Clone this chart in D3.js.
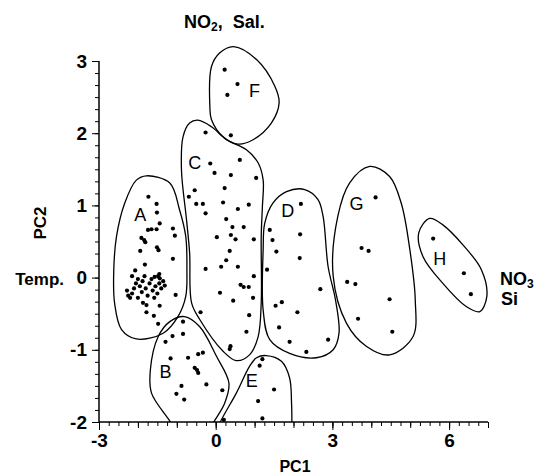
<!DOCTYPE html>
<html>
<head>
<meta charset="utf-8">
<script src="https://cdn.jsdelivr.net/npm/d3@7"></script>
<style>
  body { margin: 0; background: #fff; }
  svg { display: block; }
  text { font-family: "Liberation Sans", Arial, sans-serif; fill: #000; }
</style>
</head>
<body>
<svg id="chart" width="545" height="474"></svg>
<script>
// PCA scores (PC1, PC2)
var groupA = [[-1.73,1.12],[-1.52,1.02],[-1.51,0.90],[-1.44,0.75],[-1.74,0.66],[-1.65,0.67],[-1.52,0.67],
  [-1.10,0.68],[-1.05,0.58],[-1.91,0.55],[-1.84,0.52],[-1.81,0.49],[-1.51,0.42],[-1.47,0.38],[-1.94,0.37],
  [-1.10,0.26],[-1.82,0.18],[-2.07,0.10],[-1.48,0.02],[-1.57,0.01],[-1.44,-0.01],[-1.83,0.02],[-1.31,-0.11],
  [-1.03,-0.24],[-1.87,-0.35],[-1.78,-0.38],[-1.44,-0.39],[-1.78,-0.48],[-1.59,-0.53],[-1.48,-0.64],
  [-2.25,-0.25],[-2.20,-0.28],[-2.15,-0.22],[-2.10,-0.15],[-2.05,-0.08],[-2.00,-0.02],[-1.95,-0.12],
  [-1.90,-0.20],[-1.88,-0.05],[-1.80,-0.15],[-1.75,-0.25],[-1.70,-0.08],[-1.65,-0.02],[-1.62,-0.18],
  [-1.55,-0.12],[-1.50,-0.22],[-1.45,-0.08],[-1.40,-0.15],[-1.35,-0.05],[-2.28,-0.18],[-2.00,-0.28],
  [-1.58,-0.28],[-1.45,0.05],[-2.15,0.02]];
var groupB = [[-0.84,-0.61],[-1.29,-0.89],[-1.11,-0.81],[-0.84,-0.78],[-1.16,-1.12],[-0.71,-1.11],
  [-0.45,-1.06],[-0.33,-1.04],[-0.54,-1.25],[-0.48,-1.28],[-0.45,-1.32],[-0.88,-1.50],[-0.24,-1.48],
  [-1.01,-1.61],[-0.81,-1.69],[0.17,-1.56]];
var groupC = [[-0.26,2.01],[-0.14,1.58],[-0.03,1.45],[0.39,1.42],[0.62,1.63],[1.04,1.38],[0.23,1.24],
  [-0.54,1.21],[-0.69,1.12],[-0.50,1.02],[-0.33,1.02],[0.19,1.04],[0.57,0.95],[0.85,1.01],[-0.26,0.89],
  [0.27,0.81],[0.43,0.70],[0.72,0.70],[0.03,0.56],[0.39,0.59],[0.51,0.53],[0.98,0.53],[0.36,0.37],
  [0.27,0.24],[0.14,0.15],[-0.26,0.12],[0.57,0.15],[0.98,0.02],[0.64,-0.10],[0.72,-0.13],[0.85,-0.13],
  [0.11,-0.21],[0.45,-0.32],[0.96,-0.28],[-0.39,-0.48],[0.86,-0.52],[0.79,-0.75],[0.38,-0.95],[0.36,-0.99]];
var groupD = [[2.19,1.02],[1.39,0.66],[1.46,0.52],[1.56,0.36],[2.17,0.60],[2.16,0.27],[1.32,0.11],
  [2.69,-0.16],[1.54,-0.39],[1.70,-0.34],[2.10,-0.48],[1.63,-0.69],[1.90,-0.89],[2.89,-0.86],[2.33,-1.03]];
var groupE = [[1.20,-1.13],[1.13,-1.22],[1.50,-1.55],[1.09,-1.71],[1.20,-1.95],[0.21,-1.97]];
var groupF = [[0.23,2.88],[0.56,2.68],[0.30,2.53],[0.39,1.97]];
var groupG = [[4.11,1.11],[3.75,0.41],[3.93,0.37],[3.38,-0.06],[3.59,-0.09],[4.47,-0.30],[3.66,-0.57],[4.54,-0.75]];
var groupH = [[5.59,0.54],[6.38,0.06],[6.56,-0.23]];

// hand-drawn envelopes round each group (PC1, PC2)
var hullA = [[-1.78,1.41],[-1.18,1.31],[-0.93,0.94],[-0.77,0.57],[-0.74,0.11],[-0.77,-0.26],[-0.97,-0.54],
  [-1.35,-0.77],[-2.04,-0.85],[-2.42,-0.72],[-2.60,-0.35],[-2.62,0.11],[-2.55,0.57],[-2.34,1.03],[-2.04,1.35]];
var hullB = [[-0.80,-0.54],[-0.41,-0.68],[0.02,-1.09],[0.34,-1.46],[0.23,-1.74],[-0.07,-2.02],[-0.28,-2.25],
  [-0.93,-2.25],[-1.14,-2.02],[-1.65,-1.60],[-1.68,-1.28],[-1.48,-0.82],[-1.18,-0.61]];
var hullC = [[-0.46,2.18],[-0.11,2.09],[0.28,1.91],[0.79,1.77],[1.09,1.59],[1.22,1.35],[1.20,0.98],[1.17,0.57],
  [1.17,-0.35],[1.09,-0.82],[0.87,-1.07],[0.53,-1.15],[0.19,-1.02],[-0.41,-0.58],[-0.62,-0.35],[-0.67,0.34],
  [-0.75,0.80],[-0.88,1.49],[-0.84,1.95],[-0.67,2.14]];
var hullD = [[2.29,1.22],[2.63,1.08],[2.76,0.85],[2.89,0.15],[3.08,-0.31],[3.17,-0.77],[3.02,-1.00],[2.59,-1.11],
  [1.90,-1.05],[1.39,-0.86],[1.22,-0.45],[1.22,0.39],[1.26,0.75],[1.47,1.03],[1.82,1.19]];
var hullE = [[1.30,-1.08],[1.69,-1.16],[1.90,-1.39],[1.95,-1.74],[1.96,-2.02],[1.97,-2.30],[-0.10,-2.30],
  [0.10,-2.02],[0.53,-1.60],[0.87,-1.23],[1.05,-1.11]];
var hullF = [[0.46,3.20],[1.05,3.02],[1.52,2.65],[1.63,2.42],[1.43,2.14],[0.96,1.91],[0.57,1.85],[0.19,1.95],
  [-0.11,2.19],[-0.15,2.37],[-0.11,2.92],[0.10,3.11]];
var hullG = [[3.96,1.54],[4.47,1.40],[4.77,1.03],[4.99,0.39],[5.13,-0.31],[5.07,-0.82],[4.47,-1.07],[3.87,-0.95],
  [3.36,-0.63],[3.02,0.02],[3.14,0.85],[3.44,1.31]];
var hullH = [[5.50,0.82],[5.84,0.73],[6.36,0.45],[6.83,0.11],[6.97,-0.26],[6.79,-0.47],[6.44,-0.40],[5.84,-0.08],
  [5.33,0.29],[5.22,0.62]];

var groupNames = ["A", "B", "C", "D", "E", "F", "G", "H"];
var groupLabelPos = [[-1.94,0.87],[-1.29,-1.30],[-0.54,1.59],[1.85,0.93],[0.93,-1.42],[1.00,2.59],[3.62,1.02],[5.76,0.27]];

var xTicks = [-3, 0, 3, 6];
var yTicks = [-2, -1, 0, 1, 2, 3];

var svg = d3.select("#chart");

var x = d3.scaleLinear().domain([-3, 7]).range([99, 488]);
var y = d3.scaleLinear().domain([-2, 3]).range([422, 61]);

svg.append("clipPath").attr("id", "plotClip")
  .append("rect")
    .attr("x", 0).attr("y", 0)
    .attr("width", 545).attr("height", y(-2));

var line = d3.line()
  .x(d => x(d[0]))
  .y(d => y(d[1]))
  .curve(d3.curveCatmullRomClosed.alpha(0.5));

var hulls = [hullA, hullB, hullC, hullD, hullE, hullF, hullG, hullH];
svg.append("g")
    .attr("clip-path", "url(#plotClip)")
  .selectAll("path")
  .data(hulls)
  .join("path")
    .attr("d", line)
    .attr("fill", "none")
    .attr("stroke", "#000")
    .attr("stroke-width", 1.3);

var allPoints = [].concat(groupA, groupB, groupC, groupD, groupE, groupF, groupG, groupH);
svg.append("g")
  .selectAll("circle")
  .data(allPoints)
  .join("circle")
    .attr("cx", d => x(d[0]))
    .attr("cy", d => y(d[1]))
    .attr("r", 2.1)
    .attr("fill", "#000");

svg.append("g")
    .attr("font-size", 18)
    .attr("text-anchor", "middle")
  .selectAll("text")
  .data(groupNames)
  .join("text")
    .attr("x", (d, i) => x(groupLabelPos[i][0]))
    .attr("y", (d, i) => y(groupLabelPos[i][1]))
    .attr("dy", "0.36em")
    .text(d => d);

// axes: long ticks on multiples of 3, medium on integers, short every 0.25
var gx = svg.append("g")
  .attr("transform", `translate(0,${y(-2)})`);
gx.append("g")
  .call(d3.axisBottom(x).tickValues(d3.range(-3, 7.01, 0.25)).tickSize(4).tickFormat(""))
  .call(g => g.select(".domain").remove());
gx.append("g")
  .call(d3.axisBottom(x).tickValues(d3.range(-3, 8, 1)).tickSize(6).tickFormat(""))
  .call(g => g.select(".domain").remove());
gx.append("g")
  .call(d3.axisBottom(x).tickValues(xTicks).tickSize(8).tickPadding(4).tickFormat(d3.format("d")))
  .call(g => g.select(".domain").attr("stroke-width", 1.5).attr("d", `M${x(-3)},0H${x(7)}`))
  .call(g => g.selectAll("text").attr("font-size", 19).attr("font-weight", "bold")
    .attr("font-family", "Liberation Sans, Arial, sans-serif").text(d => d < 0 ? "-" + (-d) : d));

var gy = svg.append("g")
  .attr("transform", `translate(${x(-3)},0)`);
gy.append("g")
  .call(d3.axisLeft(y).tickValues(d3.range(-2, 3.01, 1 / 6)).tickSize(4).tickFormat(""))
  .call(g => g.select(".domain").remove());
gy.append("g")
  .call(d3.axisLeft(y).tickValues(yTicks).tickSize(7).tickPadding(5).tickFormat(d3.format("d")))
  .call(g => g.select(".domain").attr("stroke-width", 1.5).attr("d", `M0,${y(3)}V${y(-2)}`))
  .call(g => g.selectAll("text").attr("font-size", 19).attr("font-weight", "bold")
    .attr("font-family", "Liberation Sans, Arial, sans-serif").text(d => d < 0 ? "-" + (-d) : d));

svg.selectAll(".tick line").attr("stroke", "#000");

// titles
svg.append("text")
    .attr("x", 295).attr("y", 472)
    .attr("text-anchor", "middle")
    .attr("font-size", 16).attr("font-weight", "bold")
    .text("PC1");

svg.append("text")
    .attr("transform", `translate(46,223) rotate(-90)`)
    .attr("text-anchor", "middle")
    .attr("font-size", 17).attr("font-weight", "bold")
    .text("PC2");

svg.append("text")
    .attr("x", 64).attr("y", 285)
    .attr("text-anchor", "end")
    .attr("font-size", 17).attr("font-weight", "bold")
    .text("Temp.");

svg.append("text")
    .attr("x", 184).attr("y", 28)
    .attr("font-size", 18).attr("font-weight", "bold")
    .call(t => t.append("tspan").text("NO"))
    .call(t => t.append("tspan").attr("font-size", 12).attr("dy", 3).text("2"))
    .call(t => t.append("tspan").attr("dy", -3).text(",\u00a0\u00a0Sal."));

svg.append("text")
    .attr("x", 500).attr("y", 285)
    .attr("font-size", 18).attr("font-weight", "bold")
    .call(t => t.append("tspan").text("NO"))
    .call(t => t.append("tspan").attr("font-size", 12).attr("dy", 3).text("3"));

svg.append("text")
    .attr("x", 501).attr("y", 305)
    .attr("font-size", 18).attr("font-weight", "bold")
    .text("Si");
</script>
</body>
</html>
